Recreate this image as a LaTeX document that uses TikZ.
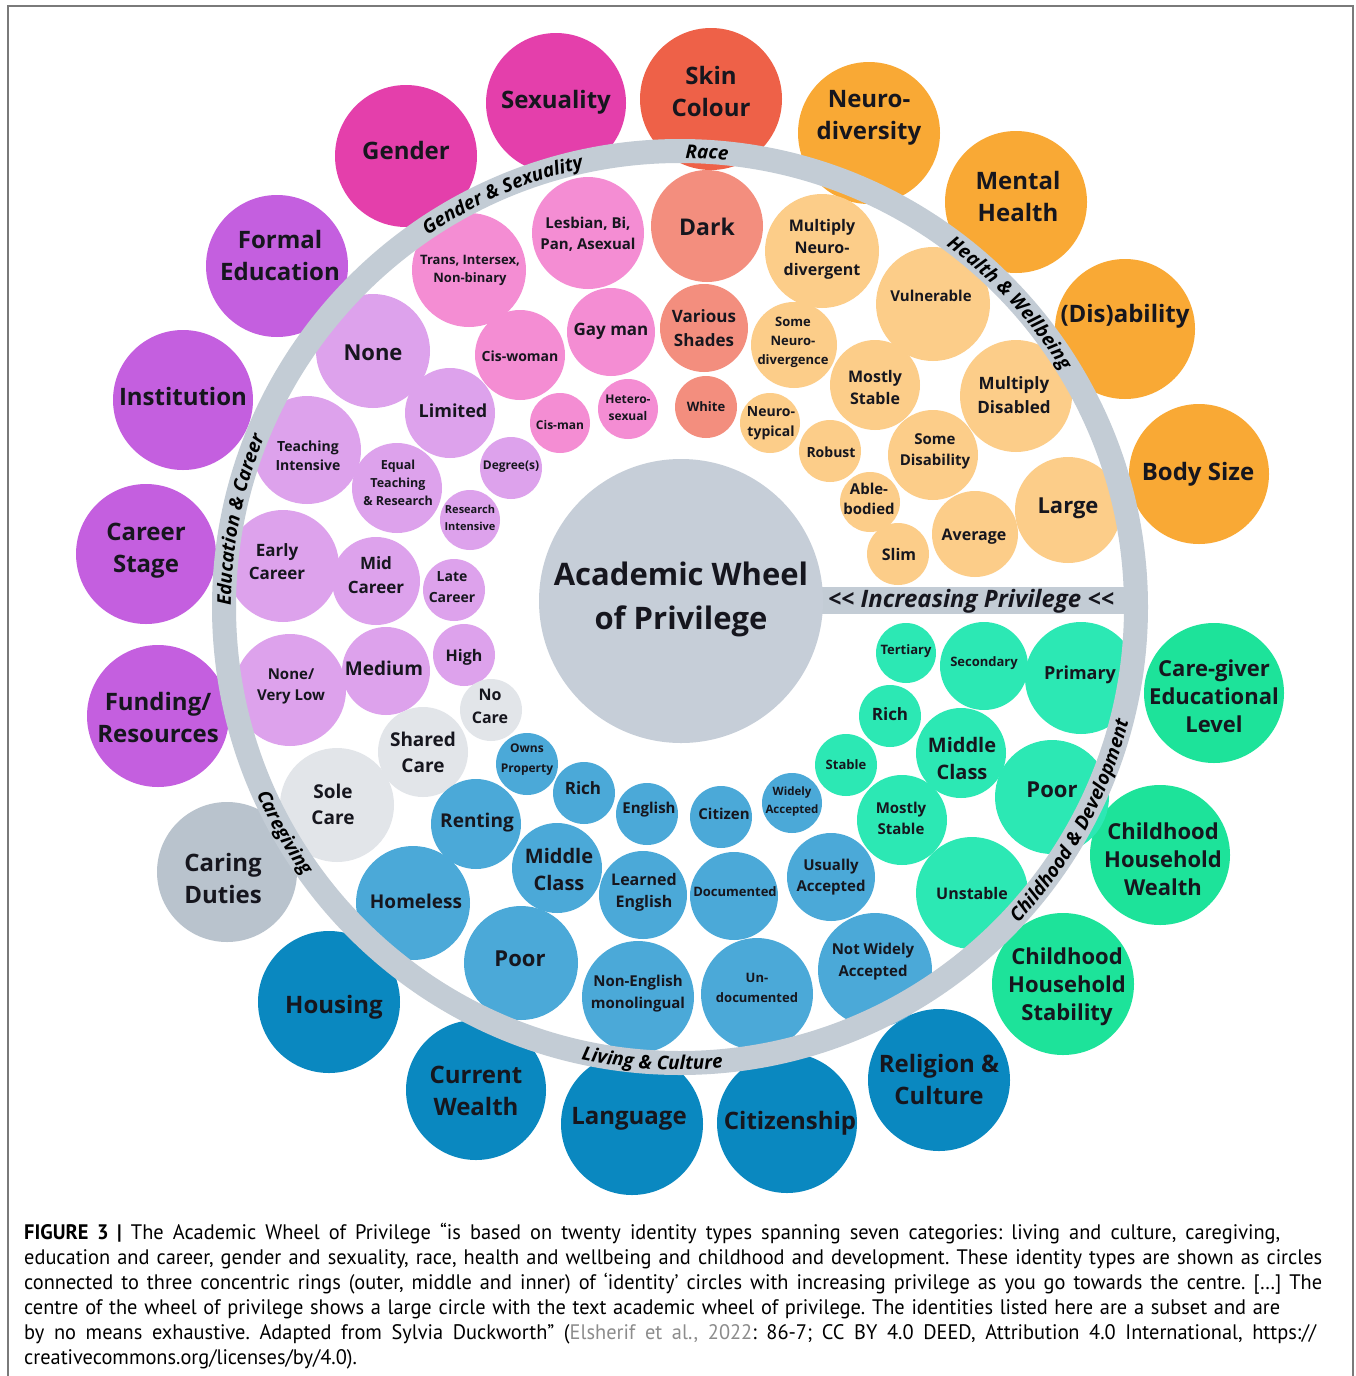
\documentclass[tikz,border=0pt]{standalone}
\usepackage{fontspec}
\setmainfont{Open Sans}
\newfontfamily\capfont[FakeStretch=0.97]{PT Sans}
\usetikzlibrary{decorations.text}
\frenchspacing

% category colours: outer ring (O) and inner identities (I)
\definecolor{gsO}{HTML}{E43FAB}\definecolor{gsI}{HTML}{F48DD3}
\definecolor{rcO}{HTML}{EE6148}\definecolor{rcI}{HTML}{F38E7E}
\definecolor{hwO}{HTML}{F9A935}\definecolor{hwI}{HTML}{FCCD89}
\definecolor{ecO}{HTML}{C45FDF}\definecolor{ecI}{HTML}{DDA2EC}
\definecolor{cgO}{HTML}{B9C3CD}\definecolor{cgI}{HTML}{E2E5E9}
\definecolor{lcO}{HTML}{0A88C0}\definecolor{lcI}{HTML}{4BA9D8}
\definecolor{cdO}{HTML}{1DE39A}\definecolor{cdI}{HTML}{2CE8B4}
\definecolor{ringcol}{HTML}{C3CCD5}
\definecolor{hubcol}{HTML}{C6CED8}
\definecolor{ink}{HTML}{16161E}
\definecolor{linkgray}{HTML}{8C8C8C}
\definecolor{framecol}{HTML}{7A7A7A}

\newcommand\fsz[2]{\fontsize{#1}{#2}\selectfont\bfseries}
\newcommand\rfont{\fontsize{19}{21}\selectfont\bfseries\itshape}
% a filled identity disc: colour, x, y, radius
\newcommand\disc[4]{\fill[#1] (#2,#3) circle[radius=#4];}

\tikzset{
  lbl/.style={inner sep=0pt, align=center, text=ink},
  outer/.style={lbl, font=\fsz{24}{32}},
  ringtext/.style={decorate, decoration={text along path, text={|\rfont|#1}, text align=center}},
  capline/.style={anchor=base west, inner sep=0pt, text=black, font=\capfont\fontsize{21}{25}\selectfont},
}

\begin{document}
\begin{tikzpicture}[x=1pt, y=-1pt]
\useasboundingbox (0,0) rectangle (1356,1376);
\fill[white] (0,0) rectangle (1356,1376);
\draw[framecol, line width=1.2pt] (8,1376) -- (8,6) -- (1353,6) -- (1353,1376);

% ================= discs =================
% outer identity types
\disc{gsO}{406}{156}{71} \disc{gsO}{556}{103}{70} \disc{rcO}{711}{99}{71}
\disc{hwO}{869}{133}{71} \disc{hwO}{1016}{202}{71} \disc{hwO}{1125}{329}{70}
\disc{hwO}{1199}{474}{70}
\disc{cdO}{1214}{693}{70} \disc{cdO}{1160}{855}{70} \disc{cdO}{1063}{984}{71}
\disc{lcO}{939}{1080}{71} \disc{lcO}{787}{1123}{70} \disc{lcO}{632}{1124}{71}
\disc{lcO}{476}{1090}{70} \disc{lcO}{329}{1002}{71}
\disc{cgO}{227}{872}{70}
\disc{ecO}{158}{716}{71} \disc{ecO}{146}{554}{70} \disc{ecO}{183}{400}{70}
\disc{ecO}{277}{266}{71}
% gender & sexuality
\disc{gsI}{469}{270}{57} \disc{gsI}{588}{233}{56} \disc{gsI}{611}{332}{44}
\disc{gsI}{520}{355}{45} \disc{gsI}{628}{409}{30} \disc{gsI}{560}{423}{30}
% race
\disc{rcI}{707}{226}{56} \disc{rcI}{704}{328}{44} \disc{rcI}{706}{407}{31}
% health & wellbeing
\disc{hwI}{822}{251}{57} \disc{hwI}{933}{304}{57} \disc{hwI}{794}{345}{43}
\disc{hwI}{875}{385}{45} \disc{hwI}{1016}{396}{56} \disc{hwI}{770}{423}{30}
\disc{hwI}{830}{451}{31} \disc{hwI}{933}{455}{45} \disc{hwI}{1068}{510}{53}
\disc{hwI}{975}{534}{43} \disc{hwI}{870}{502}{30} \disc{hwI}{898}{554}{31}
% education & career
\disc{ecI}{373}{351}{57} \disc{ecI}{450}{413}{45} \disc{ecI}{307}{450}{54}
\disc{ecI}{397}{488}{45} \disc{ecI}{511}{468}{31} \disc{ecI}{470}{520}{30}
\disc{ecI}{283}{566}{56} \disc{ecI}{376}{581}{44} \disc{ecI}{454}{590}{31}
\disc{ecI}{290}{690}{56} \disc{ecI}{386}{671}{44} \disc{ecI}{464}{655}{31}
% caregiving
\disc{cgI}{423}{752}{45} \disc{cgI}{337}{805}{57} \disc{cgI}{491}{710}{31}
% living & culture
\disc{lcI}{527}{764}{31} \disc{lcI}{584}{793}{31} \disc{lcI}{647}{814}{31}
\disc{lcI}{721}{817}{31} \disc{lcI}{792}{803}{30} \disc{lcI}{476}{824}{45}
\disc{lcI}{413}{903}{57} \disc{lcI}{557}{868}{45} \disc{lcI}{643}{895}{44}
\disc{lcI}{734}{896}{44} \disc{lcI}{831}{877}{44} \disc{lcI}{521}{963}{57}
\disc{lcI}{638}{997}{56} \disc{lcI}{757}{994}{56} \disc{lcI}{875}{970}{57}
% childhood & development
\disc{cdI}{906}{653}{30} \disc{cdI}{984}{666}{44} \disc{cdI}{1081}{678}{56}
\disc{cdI}{890}{716}{31} \disc{cdI}{961}{753}{45} \disc{cdI}{1052}{797}{57}
\disc{cdI}{846}{765}{31} \disc{cdI}{902}{820}{45} \disc{cdI}{972}{893}{56}

% ================= ring, privilege bar and hub =================
\coordinate (C) at (680,607);
\draw[ringcol, line width=24pt] (C) circle[radius=456];
\fill[ringcol] (800,587) rectangle (1130,614);
\fill[hubcol] (681,601) circle[radius=142];
\node[lbl, font=\fsz{31}{44}] (hub) at (681,599) {Academic Wheel\\of Privilege};
\node[lbl, font=\fontsize{24}{26}\selectfont\bfseries\itshape]
      (privlabel) at (971,601) {<\kern0pt< Increasing Privilege <\kern0pt<};

% category names along the ring: clockwise (tops outward)
\path[ringtext={Race}] (C) ++(-116.6:449) arc[start angle=-116.6, end angle=-56.6, radius=449];
\path[ringtext={Gender {\&} Sexuality}] (C) ++(-143.3:449) arc[start angle=-143.3, end angle=-83.3, radius=449];
\path[ringtext={Health {\&} Wellbeing}] (C) ++(-72.7:449) arc[start angle=-72.7, end angle=-12.7, radius=449];
\path[ringtext={Education {\&} Career}] (C) ++(-198.8:449) arc[start angle=-198.8, end angle=-138.8, radius=449];
% counter-clockwise (tops inward)
\path[ringtext={Caregiving}] (C) ++(-179.7:463) arc[start angle=-179.7, end angle=-239.7, radius=463];
\path[ringtext={Living {\&} Culture}] (C) ++(-236.5:463) arc[start angle=-236.5, end angle=-296.5, radius=463];
\path[ringtext={Childhood {\&} Development}] (C) ++(58.7:463) arc[start angle=58.7, end angle=-1.3, radius=463];

% ================= labels =================
% outer identity types
\node[outer] (gender) at (406,150) {Gender};
\node[outer] (sexuality) at (556,102) {Sexuality};
\node[outer] (skin) at (711,91) {Skin\\Colour};
\node[outer] (neurodiv) at (869,118) {Neuro-\\diversity};
\node[outer] (mental) at (1018,196) {Mental\\Health};
\node[outer] (disability) at (1125,316) {(Dis)ability};
\node[outer] (bodysize) at (1198,474) {Body Size};
\node[lbl, font=\fsz{22}{28}] (cgedu) at (1214,696) {Care-giver\\Educational\\Level};
\node[lbl, font=\fsz{22}{28}] (hhwealth) at (1163,859) {Childhood\\Household\\Wealth};
\node[lbl, font=\fsz{22}{28}] (hhstab) at (1067,987) {Childhood\\Household\\Stability};
\node[outer] (religion) at (939,1079) {Religion \&\\Culture};
\node[outer] (citizenship) at (790,1123) {Citizenship};
\node[outer] (language) at (629,1119) {Language};
\node[outer] (curwealth) at (476,1091) {Current\\Wealth};
\node[outer] (housing) at (334,1007) {Housing};
\node[outer] (caring) at (223,878) {Caring\\Duties};
\node[outer] (funding) at (158,717) {Funding/\\Resources};
\node[outer] (careerstage) at (146,551) {Career\\Stage};
\node[outer] (institution) at (183,396) {Institution};
\node[outer] (formaledu) at (280,255) {Formal\\Education};

% gender & sexuality
\node[lbl, font=\fsz{13}{18}] (trans) at (470,270) {Trans, Intersex,\\Non-binary};
\node[lbl, font=\fsz{15}{21}] (lgba) at (588,234) {Lesbian, Bi,\\Pan, Asexual};
\node[lbl, font=\fsz{17}{22}] (gayman) at (611,331) {Gay man};
\node[lbl, font=\fsz{14}{18}] (ciswoman) at (520,356) {Cis-woman};
\node[lbl, font=\fsz{12}{17}] (hetero) at (628,408) {Hetero-\\sexual};
\node[lbl, font=\fsz{12}{16}] (cisman) at (560,425) {Cis-man};
% race
\node[lbl, font=\fsz{23}{28}] (dark) at (707,227) {Dark};
\node[lbl, font=\fsz{17}{24}] (shades) at (704,328) {Various\\Shades};
\node[lbl, font=\fsz{13}{16}] (white) at (706,407) {White};
% health & wellbeing
\node[lbl, font=\fsz{16}{22}] (multineuro) at (822,249) {Multiply\\Neuro-\\divergent};
\node[lbl, font=\fsz{15}{20}] (vulnerable) at (931,296) {Vulnerable};
\node[lbl, font=\fsz{13}{19}] (someneuro) at (793,342) {Some\\Neuro-\\divergence};
\node[lbl, font=\fsz{16}{22}] (mostlystable) at (875,387) {Mostly\\Stable};
\node[lbl, font=\fsz{17}{24}] (multidis) at (1014,395) {Multiply\\Disabled};
\node[lbl, font=\fsz{14}{20}] (neurotyp) at (771,423) {Neuro-\\typical};
\node[lbl, font=\fsz{14}{18}] (robust) at (831,452) {Robust};
\node[lbl, font=\fsz{15}{21}] (somedis) at (935,451) {Some\\Disability};
\node[lbl, font=\fsz{22}{26}] (large) at (1068,508) {Large};
\node[lbl, font=\fsz{16}{20}] (average) at (974,537) {Average};
\node[lbl, font=\fsz{15}{20}] (able) at (869,499) {Able-\\bodied};
\node[lbl, font=\fsz{16}{20}] (slim) at (899,554) {Slim};
% education & career
\node[lbl, font=\fsz{22}{26}] (none) at (373,353) {None};
\node[lbl, font=\fsz{18}{22}] (limited) at (453,411) {Limited};
\node[lbl, font=\fsz{14}{19}] (teachint) at (308,456) {Teaching\\Intensive};
\node[lbl, font=\fsz{12.5}{18}] (equal) at (398,483) {Equal\\Teaching\\\& Research};
\node[lbl, font=\fsz{12}{16}] (degree) at (511,467) {Degree(s)};
\node[lbl, font=\fsz{11}{17}] (resint) at (470,518) {Research\\Intensive};
\node[lbl, font=\fsz{17}{23}] (early) at (277,562) {Early\\Career};
\node[lbl, font=\fsz{17}{24}] (midcareer) at (376,575) {Mid\\Career};
\node[lbl, font=\fsz{14}{21}] (late) at (452,587) {Late\\Career};
\node[lbl, font=\fsz{15}{21}] (verylow) at (291,686) {None/\\Very Low};
\node[lbl, font=\fsz{19}{22}] (medium) at (384,668) {Medium};
\node[lbl, font=\fsz{16}{20}] (high) at (464,657) {High};
% caregiving
\node[lbl, font=\fsz{19}{26}] (shared) at (423,752) {Shared\\Care};
\node[lbl, font=\fsz{19}{26}] (sole) at (333,804) {Sole\\Care};
\node[lbl, font=\fsz{16}{23}] (nocare) at (490,706) {No\\Care};
% living & culture
\node[lbl, font=\fsz{12}{20}] (owns) at (527,760) {Owns\\Property};
\node[lbl, font=\fsz{17}{20}] (brich) at (583,788) {Rich};
\node[lbl, font=\fsz{15}{20}] (english) at (649,810) {English};
\node[lbl, font=\fsz{15}{20}] (citizen) at (724,814) {Citizen};
\node[lbl, font=\fsz{11.5}{18}] (widely) at (792,802) {Widely\\Accepted};
\node[lbl, font=\fsz{19}{22}] (renting) at (477,823) {Renting};
\node[lbl, font=\fsz{19}{22}] (homeless) at (416,901) {Homeless};
\node[lbl, font=\fsz{20}{27}] (bmiddle) at (559,869) {Middle\\Class};
\node[lbl, font=\fsz{16}{22}] (learned) at (644,892) {Learned\\English};
\node[lbl, font=\fsz{13}{18}] (documented) at (735,892) {Documented};
\node[lbl, font=\fsz{15}{21}] (usually) at (831,877) {Usually\\Accepted};
\node[lbl, font=\fsz{22}{26}] (bpoor) at (520,959) {Poor};
\node[lbl, font=\fsz{15}{22}] (nonenglish) at (638,994) {Non-English\\monolingual};
\node[lbl, font=\fsz{13}{20}] (undoc) at (757,988) {Un-\\documented};
\node[lbl, font=\fsz{15}{22}] (notwidely) at (873,962) {Not Widely\\Accepted};
% childhood & development
\node[lbl, font=\fsz{13}{16}] (tertiary) at (906,651) {Tertiary};
\node[lbl, font=\fsz{13}{16}] (secondary) at (984,663) {Secondary};
\node[lbl, font=\fsz{18}{22}] (primary) at (1080,675) {Primary};
\node[lbl, font=\fsz{17}{20}] (grich) at (890,714) {Rich};
\node[lbl, font=\fsz{20}{27}] (gmiddle) at (962,758) {Middle\\Class};
\node[lbl, font=\fsz{22}{26}] (gpoor) at (1052,790) {Poor};
\node[lbl, font=\fsz{13}{16}] (stable) at (846,765) {Stable};
\node[lbl, font=\fsz{15}{21}] (gmostly) at (901,818) {Mostly\\Stable};
\node[lbl, font=\fsz{16}{20}] (unstable) at (972,893) {Unstable};

% ================= caption =================
\node[capline] (cap1) at (24,1239) {\makebox[1256pt][s]{\textbf{FIGURE 3 |} The Academic Wheel of Privilege “is based on twenty identity types spanning seven categories: living and culture, caregiving,}};
\node[capline] (cap2) at (24,1264) {\makebox[1298pt][s]{education and career, gender and sexuality, race, health and wellbeing and childhood and development. These identity types are shown as circles}};
\node[capline] (cap3) at (24,1289) {\makebox[1298pt][s]{connected to three concentric rings (outer, middle and inner) of ‘identity’ circles with increasing privilege as you go towards the centre. […] The}};
\node[capline] (cap4) at (24,1314) {\makebox[1256pt][s]{centre of the wheel of privilege shows a large circle with the text academic wheel of privilege. The identities listed here are a subset and are}};
\node[capline] (cap5) at (24,1339) {\makebox[1292pt][s]{by no means exhaustive. Adapted from Sylvia Duckworth” (\textcolor{linkgray}{Elsherif et al., 2022}: 86-7; CC BY 4.0 DEED, Attribution 4.0 International, https://}};
\node[capline] (cap6) at (24,1364) {creativecommons.org/licenses/by/4.0).};
\end{tikzpicture}
\end{document}
